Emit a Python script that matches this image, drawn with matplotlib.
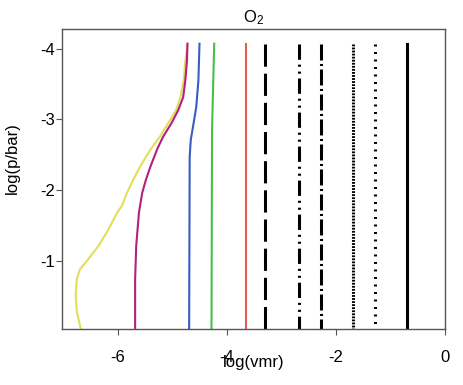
import matplotlib
matplotlib.use("Agg")
import matplotlib.pyplot as plt

plt.rcParams['font.family'] = ['Liberation Sans', 'DejaVu Sans']
plt.rcParams['mathtext.default'] = 'regular'
plt.rcParams['lines.scale_dashes'] = False

# coloured profiles: log(p/bar) levels and log(vmr) values
yellow_p = [-4.07, -3.83, -3.55, -3.31, -3.13, -2.95, -2.75, -2.57, -2.33, -2.15,
            -1.96, -1.78, -1.68, -1.44, -1.21, -1.02, -0.88, -0.74, -0.50, -0.28,
            -0.08, 0.0]
yellow_x = [-4.72, -4.76, -4.79, -4.85, -4.93, -5.07, -5.23, -5.40, -5.59, -5.71,
            -5.83, -5.92, -6.01, -6.17, -6.35, -6.54, -6.69, -6.75, -6.77, -6.75,
            -6.69, -6.67]

magenta_p = [-4.07, -3.83, -3.55, -3.31, -3.13, -2.95, -2.75, -2.57, -2.33, -2.15,
             -1.96, -1.68, -1.21, -0.74, 0.0]
magenta_x = [-4.72, -4.73, -4.76, -4.80, -4.89, -5.01, -5.17, -5.28, -5.40, -5.48,
             -5.55, -5.61, -5.66, -5.68, -5.68]

blue_p = [-4.07, -3.55, -3.17, -2.89, -2.71, -2.47, 0.0]
blue_x = [-4.50, -4.52, -4.56, -4.62, -4.66, -4.68, -4.69]

green_p = [-4.07, -2.85, 0.0]
green_x = [-4.23, -4.27, -4.28]

red_p = [-4.07, 0.0]
red_x = [-3.65, -3.65]

# constant black profiles
black_x = [-3.3, -2.67, -2.28, -1.68, -1.29, -0.69]
black_p = [-4.07, 0.0]

xticks = [-6, -4, -2, 0]
yticks = [-1, -2, -3, -4]

fig = plt.figure(figsize=(4.63, 3.85), dpi=100)
ax = fig.add_axes([0.134, 0.145, 0.827, 0.78])

ax.plot(yellow_x, yellow_p, color="#e0e058", lw=1.5)
ax.plot(magenta_x, magenta_p, color="#b3207e", lw=1.5)
ax.plot(blue_x, blue_p, color="#3a5cc4", lw=1.5)
ax.plot(green_x, green_p, color="#44c044", lw=1.5)
ax.plot(red_x, red_p, color="#e06050", lw=1.5)

styles = [(0, (16, 5)),
          (0, (11, 3.5, 1.5, 3.5, 1.5, 3.5)),
          (0, (11.5, 2.5, 1.5, 2.5)),
          (0, (1.3, 0.9)),
          (0, (1.4, 4.0)),
          '-']
for x, ls in zip(black_x, styles):
    ax.plot([x, x], black_p, color="black", lw=2.2, linestyle=ls)

ax.set_xlim(-7.02, 0)
ax.set_ylim(-0.03, -4.28)
ax.set_xticks(xticks)
ax.set_yticks(yticks)
ax.set_xticklabels([str(t) for t in xticks])
ax.set_yticklabels([str(t) for t in yticks])

for s in ax.spines.values():
    s.set_color("#555555")
    s.set_linewidth(1.0)
ax.tick_params(axis='x', direction='out', length=4, color="#555555", labelsize=12, pad=11)
ax.tick_params(axis='y', direction='out', length=4, color="#555555", labelsize=12, pad=1)

ax.set_title("O$_2$", fontsize=12, pad=5)
ax.set_xlabel("log(vmr)", fontsize=12, labelpad=-7)
ax.set_ylabel("log(p/bar)", fontsize=12)
ax.yaxis.set_label_coords(-0.11, 0.57)

fig.savefig("out.png", dpi=100)
